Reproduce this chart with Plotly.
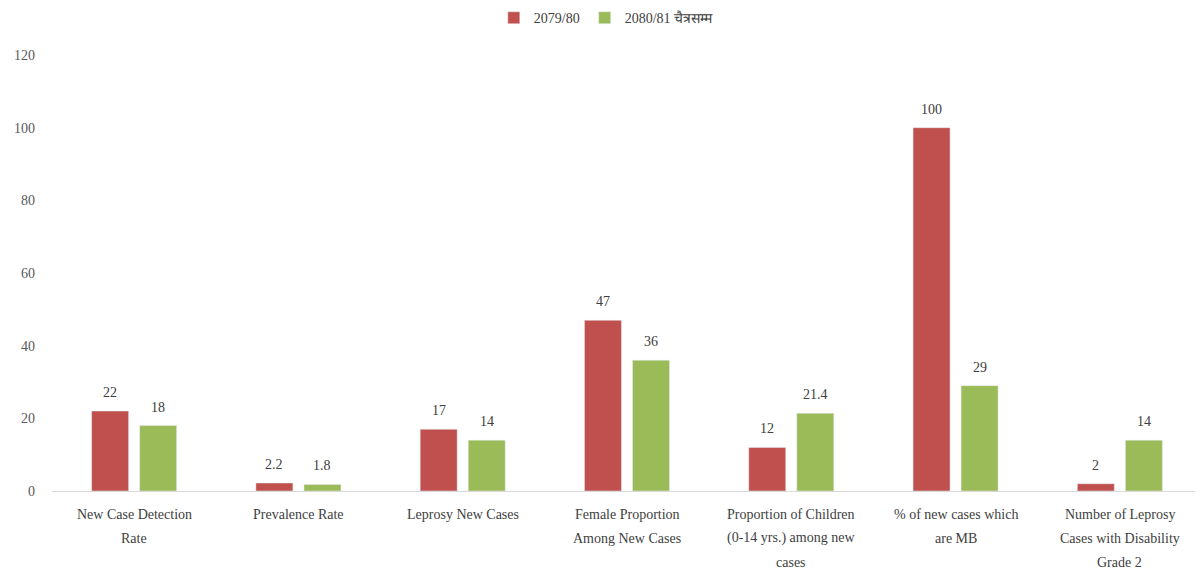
import plotly.graph_objects as go

categories = [
    "New Case Detection<br>Rate",
    "Prevalence Rate",
    "Leprosy New Cases",
    "Female Proportion<br>Among New Cases",
    "Proportion of Children<br>(0-14 yrs.) among new<br>cases",
    "% of new cases which<br>are MB",
    "Number of Leprosy<br>Cases with Disability<br>Grade 2",
]
series_2079 = [22, 2.2, 17, 47, 12, 100, 2]
series_2080 = [18, 1.8, 14, 36, 21.4, 29, 14]
label_2079 = ["22", "2.2", "17", "47", "12", "100", "2"]
label_2080 = ["18", "1.8", "14", "36", "21.4", "29", "14"]
name_2079 = "2079/80"
name_2080 = "2080/81 चैत्रसम्म"
y_ticks = [0, 20, 40, 60, 80, 100, 120]

RED = "#C0504D"
GREEN = "#9BBB59"
FONT = "Liberation Serif"
TXT = "#404040"

bargap = 0.415
bargroupgap = 0.23

fig = go.Figure()
idx = list(range(len(categories)))
fig.add_trace(go.Bar(x=idx, y=series_2079, name=name_2079, marker_color=RED))
fig.add_trace(go.Bar(x=idx, y=series_2080, name=name_2080, marker_color=GREEN))

annotations = []
off = (1 - bargap) / 4
for i in idx:
    for dx, v, t in ((-off, series_2079[i], label_2079[i]), (off, series_2080[i], label_2080[i])):
        annotations.append(dict(x=i + dx, y=v, xref="x", yref="y", text=t, showarrow=False,
                                yanchor="bottom", yshift=9,
                                font=dict(family=FONT, size=14, color=TXT)))
    for j, line in enumerate(categories[i].split("<br>")):
        annotations.append(dict(x=i, y=0, xref="x", yref="y", text=line, showarrow=False,
                                yanchor="middle", yshift=-(23 + 24 * j),
                                font=dict(family=FONT, size=14, color=TXT)))

fig.update_layout(
    width=1195, height=564,
    margin=dict(l=44, r=1, t=47, b=81, autoexpand=False),
    paper_bgcolor="white", plot_bgcolor="white",
    barmode="group", bargap=bargap, bargroupgap=bargroupgap,
    font=dict(family=FONT, size=14, color=TXT),
    legend=dict(orientation="h", x=0.482, xanchor="center",
                yref="container", y=0.982, yanchor="middle",
                font=dict(family=FONT, size=14, color=TXT), itemwidth=30),
    annotations=annotations,
    xaxis=dict(range=[-0.5, len(categories) - 0.5], showticklabels=False, showgrid=False,
               zeroline=False, showline=True, linecolor="#D9D9D9", linewidth=1, ticks=""),
    yaxis=dict(range=[0, 120], tickvals=y_ticks, showgrid=False, zeroline=False,
               showline=False, ticks="", ticklabelstandoff=16,
               tickfont=dict(family=FONT, size=14, color="#595959")),
)

fig.write_html("out.html")
